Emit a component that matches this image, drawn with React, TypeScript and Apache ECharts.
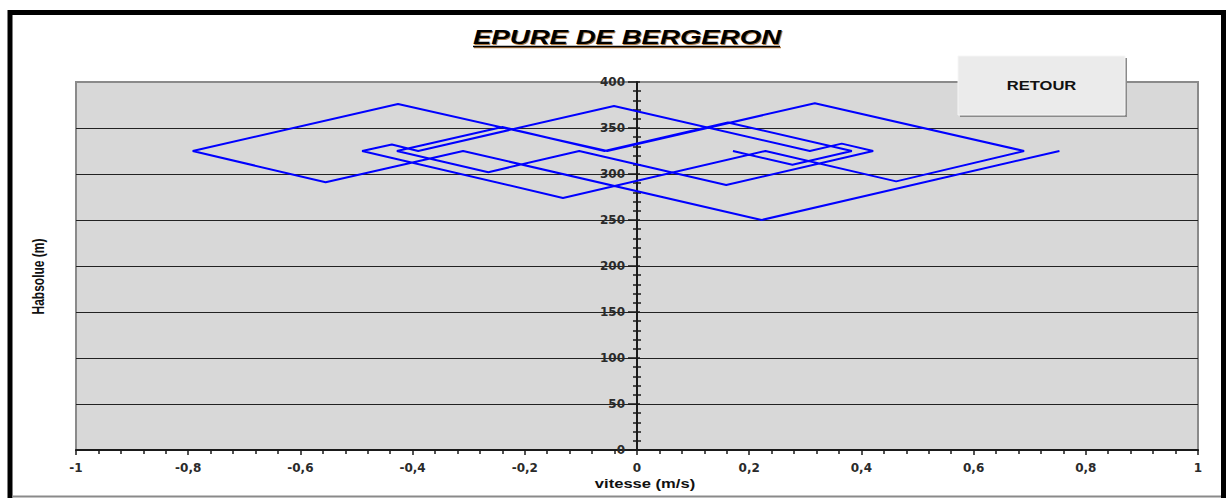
import React, { useEffect, useRef } from "react";
import * as echarts from "echarts";

// Bergeron diagram path: velocity (m/s) and absolute head (m), in drawing order
const velocity = [
  0.171, 0.277, 0.383, 0.162, -0.058, -0.24, -0.428, -0.265, -0.103, 0.159,
  0.421, 0.365, 0.308, -0.041, -0.39, -0.437, -0.49, -0.132, 0.229, 0.462,
  0.69, 0.317, -0.053, -0.426, -0.792, -0.555, -0.31, 0.222, 0.753,
];
const head = [
  325, 310, 325, 356, 325, 351, 325, 302, 325, 288,
  325, 333, 325, 374, 325, 332, 325, 274, 325, 292,
  325, 377, 325, 376, 325, 291, 325, 250, 325,
];

const titleText = "EPURE DE BERGERON";
const xTitle = "vitesse (m/s)";
const yTitle = "Habsolue (m)";
const buttonText = "RETOUR";

const xMin = -1;
const xMax = 1;
const xStep = 0.2;
const yMin = 0;
const yMax = 400;
const yStep = 50;

const FONT = "'Liberation Sans', Arial, sans-serif";
const LABEL_FONT = "'DejaVu Sans', sans-serif";
const STRETCH = 1.38;

const GRID_LEFT = 76;
const GRID_RIGHT = 29;
const WIDTH = 1227;
const HEIGHT = 498;

export default function App() {
  const ref = useRef<HTMLDivElement>(null);

  useEffect(() => {
    const chart = echarts.init(ref.current!, null, { renderer: "svg" });
    const fmt = (v: number) => String(Math.round(v * 10) / 10).replace(".", ",");
    const points = velocity.map((v, i) => [v, head[i]]);
    const gridWidth = WIDTH - GRID_LEFT - GRID_RIGHT;
    // shift the vertical axis from the left edge to x = 0
    const zeroOffset = -gridWidth * ((0 - xMin) / (xMax - xMin));
    const tickStyle = { color: "#1a1a1a", width: 1.5 };

    chart.setOption({
      animation: false,
      backgroundColor: "#ffffff",
      grid: {
        left: GRID_LEFT,
        right: GRID_RIGHT,
        top: 82,
        bottom: 48,
        show: true,
        backgroundColor: "#d8d8d8",
        borderColor: "#8a8a8a",
        borderWidth: 2,
      },
      xAxis: {
        type: "value",
        min: xMin,
        max: xMax,
        interval: xStep,
        axisLine: { show: true, onZero: false, lineStyle: { color: "#1a1a1a", width: 2 } },
        axisTick: { show: true, length: 5, lineStyle: tickStyle },
        minorTick: { show: true, splitNumber: 5, length: 4, lineStyle: tickStyle },
        splitLine: { show: false },
        axisLabel: {
          formatter: fmt,
          margin: 12,
          color: "#2a2a2a",
          fontFamily: LABEL_FONT,
          fontWeight: "bold",
          fontSize: 12,
        },
      },
      yAxis: [
        {
          type: "value",
          position: "left",
          offset: zeroOffset,
          min: yMin,
          max: yMax,
          interval: yStep,
          axisLine: { show: true, onZero: false, lineStyle: { color: "#1a1a1a", width: 2 } },
          axisTick: { show: true, length: 9, lineStyle: tickStyle },
          minorTick: { show: true, splitNumber: 5, length: 4, lineStyle: tickStyle },
          splitLine: {
            show: true,
            showMinLine: false,
            showMaxLine: false,
            lineStyle: { color: "#222222", width: 1 },
          },
          axisLabel: {
            formatter: fmt,
            margin: 12,
            color: "#2a2a2a",
            fontFamily: LABEL_FONT,
            fontWeight: "bold",
            fontSize: 12,
          },
        },
        {
          type: "value",
          position: "left",
          offset: zeroOffset,
          min: yMin,
          max: yMax,
          interval: yStep,
          axisLine: { show: false, onZero: false },
          axisTick: { show: true, inside: true, length: 3, lineStyle: tickStyle },
          minorTick: { show: true, splitNumber: 5, length: 4, lineStyle: tickStyle },
          splitLine: { show: false },
          axisLabel: { show: false },
        },
      ],
      series: [
        {
          type: "line",
          data: points,
          xAxisIndex: 0,
          yAxisIndex: 0,
          showSymbol: false,
          symbol: "none",
          lineStyle: { color: "#0000ff", width: 2 },
          z: 5,
        },
      ],
      graphic: [
        {
          type: "polyline",
          z: 50,
          shape: { points: [[10, 498], [10, 12.5], [1223.5, 12.5], [1223.5, 498]] },
          style: { stroke: "#000000", lineWidth: 5, fill: "none" },
        },
        {
          type: "line",
          z: 50,
          shape: { x1: 12, y1: 496.5, x2: 1221, y2: 496.5 },
          style: { stroke: "#8a8a8a", lineWidth: 2 },
        },
        {
          type: "text",
          z: 51,
          x: 628,
          y: 38,
          scaleX: STRETCH,
          style: {
            text: titleText,
            x: 0,
            y: 0,
            align: "center",
            verticalAlign: "middle",
            font: `italic bold 20px ${FONT}`,
            fill: "#b07a40",
          },
        },
        {
          type: "text",
          z: 52,
          x: 627,
          y: 37,
          scaleX: STRETCH,
          style: {
            text: titleText,
            x: 0,
            y: 0,
            align: "center",
            verticalAlign: "middle",
            font: `italic bold 20px ${FONT}`,
            fill: "#000000",
          },
        },
        {
          type: "line",
          z: 51,
          shape: { x1: 474, y1: 47.5, x2: 781, y2: 47.5 },
          style: { stroke: "#b07a40", lineWidth: 1.5 },
        },
        {
          type: "line",
          z: 52,
          shape: { x1: 473, y1: 46.5, x2: 780, y2: 46.5 },
          style: { stroke: "#000000", lineWidth: 1.6 },
        },
        {
          type: "rect",
          z: 60,
          shape: { x: 960, y: 58, width: 167, height: 59 },
          style: { fill: "#8a8a8a" },
        },
        {
          type: "rect",
          z: 61,
          shape: { x: 958, y: 56, width: 167, height: 59 },
          style: { fill: "#ebebeb", stroke: "#f6f6f6", lineWidth: 1 },
        },
        {
          type: "text",
          z: 62,
          x: 1041.5,
          y: 86,
          scaleX: STRETCH,
          style: {
            text: buttonText,
            x: 0,
            y: 0,
            align: "center",
            verticalAlign: "middle",
            font: `bold 12px ${FONT}`,
            fill: "#111111",
          },
        },
        {
          type: "text",
          z: 50,
          x: 645,
          y: 484,
          scaleX: STRETCH,
          style: {
            text: xTitle,
            x: 0,
            y: 0,
            align: "center",
            verticalAlign: "middle",
            font: `bold 12px ${FONT}`,
            fill: "#111111",
          },
        },
        {
          type: "text",
          z: 50,
          x: 38.5,
          y: 276.5,
          rotation: Math.PI / 2,
          scaleY: STRETCH,
          style: {
            text: yTitle,
            x: 0,
            y: 0,
            align: "center",
            verticalAlign: "middle",
            font: `bold 12px ${FONT}`,
            fill: "#111111",
          },
        },
      ],
    });

    return () => chart.dispose();
  }, []);

  return (
    <div
      ref={ref}
      style={{ position: "absolute", left: 0, top: 0, width: WIDTH, height: HEIGHT, background: "#ffffff" }}
    />
  );
}
